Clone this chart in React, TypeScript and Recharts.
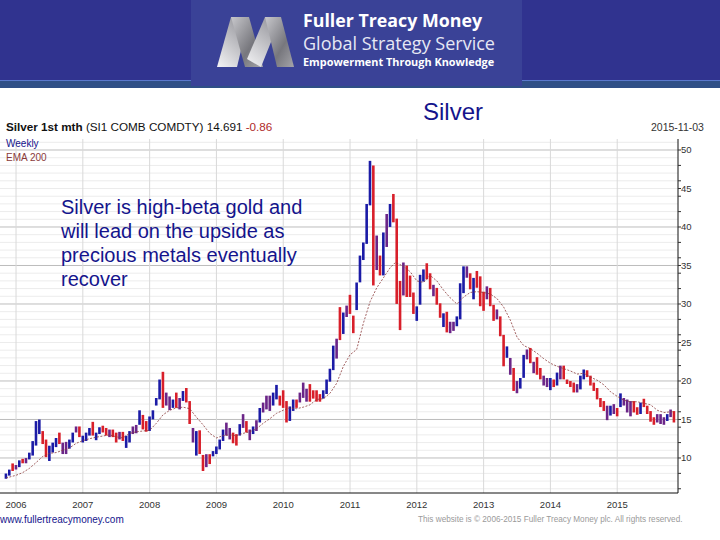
import {
  Bar,
  CartesianGrid,
  Cell,
  ComposedChart,
  Line,
  XAxis,
  YAxis,
} from "recharts";

// one bar every 0.05 year
const barYears = [
  2005.85, 2005.9, 2005.95, 2006, 2006.05, 2006.1, 2006.15, 2006.2, 2006.25, 2006.3,
  2006.35, 2006.4, 2006.45, 2006.5, 2006.55, 2006.6, 2006.65, 2006.7, 2006.75, 2006.8,
  2006.85, 2006.9, 2006.95, 2007, 2007.05, 2007.1, 2007.15, 2007.2, 2007.25, 2007.3,
  2007.35, 2007.4, 2007.45, 2007.5, 2007.55, 2007.6, 2007.65, 2007.7, 2007.75, 2007.8,
  2007.85, 2007.9, 2007.95, 2008, 2008.05, 2008.1, 2008.15, 2008.2, 2008.25, 2008.3,
  2008.35, 2008.4, 2008.45, 2008.5, 2008.55, 2008.6, 2008.65, 2008.7, 2008.75, 2008.8,
  2008.85, 2008.9, 2008.95, 2009, 2009.05, 2009.1, 2009.15, 2009.2, 2009.25, 2009.3,
  2009.35, 2009.4, 2009.45, 2009.5, 2009.55, 2009.6, 2009.65, 2009.7, 2009.75, 2009.8,
  2009.85, 2009.9, 2009.95, 2010, 2010.05, 2010.1, 2010.15, 2010.2, 2010.25, 2010.3,
  2010.35, 2010.4, 2010.45, 2010.5, 2010.55, 2010.6, 2010.65, 2010.7, 2010.75, 2010.8,
  2010.85, 2010.9, 2010.95, 2011, 2011.05, 2011.1, 2011.15, 2011.2, 2011.25, 2011.3,
  2011.35, 2011.4, 2011.45, 2011.5, 2011.55, 2011.6, 2011.65, 2011.7, 2011.75, 2011.8,
  2011.85, 2011.9, 2011.95, 2012, 2012.05, 2012.1, 2012.15, 2012.2, 2012.25, 2012.3,
  2012.35, 2012.4, 2012.45, 2012.5, 2012.55, 2012.6, 2012.65, 2012.7, 2012.75, 2012.8,
  2012.85, 2012.9, 2012.95, 2013, 2013.05, 2013.1, 2013.15, 2013.2, 2013.25, 2013.3,
  2013.35, 2013.4, 2013.45, 2013.5, 2013.55, 2013.6, 2013.65, 2013.7, 2013.75, 2013.8,
  2013.85, 2013.9, 2013.95, 2014, 2014.05, 2014.1, 2014.15, 2014.2, 2014.25, 2014.3,
  2014.35, 2014.4, 2014.45, 2014.5, 2014.55, 2014.6, 2014.65, 2014.7, 2014.75, 2014.8,
  2014.85, 2014.9, 2014.95, 2015, 2015.05, 2015.1, 2015.15, 2015.2, 2015.25, 2015.3,
  2015.35, 2015.4, 2015.45, 2015.5, 2015.55, 2015.6, 2015.65, 2015.7, 2015.75, 2015.8,
  2015.85,
];

const barLows = [
  7.4, 7.8, 8.4, 8.6, 8.9, 9.4, 9.4, 9.9, 10.4, 11.7,
  13.2, 11.9, 10.2, 9.7, 10.8, 11.5, 11.9, 10.6, 10.6, 11.3,
  12.1, 13.4, 12.8, 12.1, 12.3, 13, 13, 12.4, 13.2, 13.4,
  13, 12.8, 12.8, 12.1, 12.5, 12.3, 11.4, 12.1, 13.2, 13.3,
  14.4, 13.8, 13.5, 13.6, 15.1, 16.9, 17.7, 16.6, 16.9, 16.3,
  16.6, 16.6, 16.4, 17.5, 17.3, 14.5, 12.1, 10.4, 10.6, 8.4,
  8.9, 9.3, 10.3, 10.6, 11.2, 12.3, 13, 12.5, 12, 11.7,
  13, 14, 13.4, 12.4, 13.2, 13.6, 14.7, 16, 16.4, 16.2,
  16.9, 17.7, 16.9, 16.6, 14.7, 14.9, 16.2, 16.6, 17.3, 17.9,
  17.4, 17.4, 17.8, 17.4, 17.4, 17.8, 18.4, 20, 21.5, 23,
  25.4, 26.2, 28.4, 28.8, 26.3, 29.3, 32.9, 35.8, 37.9, 42.9,
  32.5, 34.5, 33.8, 33.8, 37.5, 40.1, 40.7, 30.1, 26.7, 31.2,
  31, 31, 28.8, 27.9, 30, 33, 33.3, 32, 31.1, 30,
  28.3, 27.1, 26.4, 26.3, 26.6, 27.2, 28.1, 31.5, 33.5, 32,
  30.7, 32.2, 29.8, 29.2, 30.7, 29.8, 27.9, 28.1, 25.9, 22,
  23.1, 20.9, 18.8, 18.5, 19.1, 20.5, 22.9, 22.4, 21.1, 20.9,
  20.3, 19.5, 19.3, 18.9, 19.3, 19.5, 20.3, 20.3, 19.7, 19.3,
  18.6, 18.6, 19, 20.3, 20.6, 19.5, 18.8, 17.7, 16.7, 16.2,
  15, 15.6, 15.8, 15.5, 16.7, 16.9, 16, 15.5, 16, 15.7,
  15.8, 16.7, 15.8, 14.8, 14.4, 14.7, 14.5, 14.4, 14.9, 15.4,
  14.7,
];

const barHighs = [
  7.9, 8.4, 9.2, 9, 9.6, 9.8, 9.9, 10.6, 12.1, 14.7,
  14.9, 13.4, 12.3, 11.5, 11.9, 12.5, 13.2, 11.9, 12, 12.3,
  13.2, 14, 14, 12.8, 13.2, 13.8, 14.6, 13.2, 13.9, 14.1,
  13.8, 13.6, 13.6, 13.2, 13.3, 13.3, 12.8, 13.4, 14, 14.2,
  16.1, 15.5, 14.7, 15.3, 16.1, 17.7, 20.1, 21.1, 18.4, 17.9,
  17.5, 18.4, 17.7, 18.6, 19, 17.3, 13.8, 13.4, 13.5, 10.3,
  10.4, 10.4, 10.8, 11.4, 12.3, 13.6, 14.5, 13.8, 13.2, 13,
  14.3, 15.6, 14.7, 13.6, 14, 14.8, 16.4, 17.1, 18, 18,
  18.4, 19.4, 18, 18.7, 17.3, 16.6, 17.5, 17.5, 18.4, 19.7,
  18.9, 19.5, 18.7, 18.7, 18.2, 18.7, 20.1, 21.5, 24.5, 25.4,
  29.5, 28.8, 29.7, 31.1, 28.4, 32.7, 36.2, 37.9, 42.9, 48.5,
  47.9, 38.8, 36.2, 39.2, 41.6, 42.9, 44.2, 41, 32.9, 35.3,
  34.9, 33.6, 31.4, 29.6, 33.7, 34.4, 35.2, 33.9, 32.4, 32,
  30, 28.7, 28.9, 27.6, 27.6, 28.3, 32.6, 34.8, 34.8, 33.9,
  33.3, 34.2, 33.5, 31.5, 32.2, 32, 29.8, 29.2, 28.3, 25.9,
  24.4, 22.9, 21.6, 19.9, 20.3, 23.3, 24, 24.2, 22.4, 23,
  21.6, 20.6, 20.3, 20.3, 20.1, 21, 21.9, 21.9, 20.1, 19.9,
  19.7, 19.5, 20.6, 21.4, 21.3, 20.6, 19.7, 19, 17.7, 17.3,
  16.7, 16.7, 16.9, 16.4, 18.3, 17.7, 17.5, 17.3, 17.3, 16.5,
  17.1, 17.6, 16.7, 16, 15.2, 15.6, 15.6, 15.2, 15.6, 16.2,
  16,
];

// u = up week, d = down week, m = both colours overlapping
const barKinds = [
  "u", "u", "d", "m", "u", "d", "m", "u", "u", "u",
  "u", "d", "d", "u", "u", "u", "d", "m", "m", "u",
  "u", "m", "d", "u", "u", "u", "d", "u", "u", "d",
  "d", "m", "d", "d", "m", "d", "u", "u", "m", "m",
  "u", "d", "d", "u", "u", "u", "u", "d", "m", "m",
  "u", "d", "m", "u", "d", "d", "m", "u", "d", "d",
  "m", "d", "u", "u", "u", "u", "m", "m", "d", "d",
  "u", "m", "d", "m", "u", "m", "u", "m", "m", "m",
  "u", "u", "d", "d", "d", "u", "u", "d", "m", "m",
  "m", "d", "d", "d", "d", "u", "u", "u", "u", "m",
  "d", "u", "m", "d", "d", "u", "u", "u", "u", "u",
  "d", "m", "d", "u", "m", "u", "d", "d", "d", "m",
  "d", "d", "d", "u", "u", "u", "d", "d", "m", "d",
  "d", "u", "d", "m", "m", "u", "u", "u", "m", "d",
  "u", "d", "d", "d", "m", "d", "d", "m", "d", "d",
  "u", "m", "d", "m", "u", "u", "m", "d", "m", "d",
  "d", "m", "m", "u", "d", "u", "m", "d", "d", "d",
  "d", "m", "u", "u", "d", "d", "d", "d", "d", "d",
  "m", "u", "m", "d", "u", "m", "m", "m", "d", "d",
  "u", "d", "d", "d", "d", "m", "m", "m", "u", "m",
  "d",
];

const emaYears = [
  2005.85, 2006, 2006.1, 2006.2, 2006.3, 2006.4, 2006.5, 2006.6, 2006.7, 2006.8, 2006.9,
  2007, 2007.1, 2007.2, 2007.3, 2007.4, 2007.5, 2007.6, 2007.7, 2007.8, 2007.9,
  2008, 2008.1, 2008.2, 2008.3, 2008.4, 2008.5, 2008.6, 2008.7, 2008.8, 2008.9,
  2009, 2009.1, 2009.2, 2009.3, 2009.4, 2009.5, 2009.6, 2009.7, 2009.8, 2009.9,
  2010, 2010.1, 2010.2, 2010.3, 2010.4, 2010.5, 2010.6, 2010.7, 2010.8, 2010.9,
  2011, 2011.1, 2011.2, 2011.3, 2011.4, 2011.5, 2011.6, 2011.68, 2011.8, 2011.9,
  2012, 2012.1, 2012.2, 2012.3, 2012.4, 2012.5, 2012.6, 2012.7, 2012.8, 2012.9,
  2013, 2013.1, 2013.2, 2013.3, 2013.4, 2013.5, 2013.6, 2013.7, 2013.8, 2013.9,
  2014, 2014.1, 2014.2, 2014.3, 2014.4, 2014.5, 2014.6, 2014.7, 2014.8, 2014.9,
  2015, 2015.1, 2015.2, 2015.3, 2015.4, 2015.5, 2015.6, 2015.7, 2015.8, 2015.85,
];

const emaValues = [
  7.4, 7.75, 8.1, 8.65, 9.4, 10.2, 10.6, 10.7, 11, 11.3, 11.9,
  12.25, 12.5, 12.7, 12.85, 13, 12.75, 12.6, 13.2, 13.4, 13.5,
  13.6, 14.5, 15.6, 16.2, 16.5, 16.6, 16.4, 15.3, 14.3, 13.2,
  12.6, 12.9, 13, 12.9, 13.2, 13.4, 13.8, 14.5, 15.1, 15.8,
  16.2, 16.5, 16.4, 16.6, 16.9, 17.6, 17.7, 18.4, 19.7, 21.9,
  23.4, 24.1, 27.5, 30.3, 32.1, 33.4, 34.7, 35.4, 34.9, 34.2,
  33, 32.8, 33.7, 33, 31.8, 30.8, 30, 30.9, 31.5, 31.6,
  31.5, 31.3, 30.7, 29.6, 27.9, 25.7, 24.6, 24.2, 23.6, 22.9,
  22.3, 21.9, 21.6, 21.3, 20.9, 21, 20.5, 20.1, 19.5, 18.6,
  18, 17.5, 17.3, 17.3, 17.1, 16.9, 16.2, 15.9, 16, 16,
];

const yearTicks = [2006, 2007, 2008, 2009, 2010, 2011, 2012, 2013, 2014, 2015];
const priceTicks = [6, 8, 10, 12, 14, 15, 16, 18, 20, 22, 24, 25, 26, 28, 30, 32, 34, 35, 36, 38, 40, 42, 44, 45, 46, 48, 50];
const majorLevels = [10, 15, 20, 30, 35, 40, 50];
const minorLevels = [
  6, 7, 8, 9, 11, 12, 13, 14, 16, 17, 18, 19, 21, 22, 23, 24, 25, 26, 27, 28, 29,
  31, 32, 33, 34, 36, 37, 38, 39, 41, 42, 43, 44, 45, 46, 47, 48, 49, 51,
];

const KIND_COLORS: Record<string, string> = { u: "#1b1ba6", d: "#d81f2a", m: "#6b2588" };
const NAVY = "#14148c";

const barRows = barYears.map((year, i) => ({ year, range: [barLows[i], barHighs[i]] }));
const emaRows = emaYears.map((year, i) => ({ year, ema: emaValues[i] }));

function Label({ x, y, size, color, bold, font, children }: any) {
  return (
    <div
      style={{
        position: "absolute",
        left: x,
        top: y,
        fontSize: size,
        color,
        fontWeight: bold ? 700 : 400,
        fontFamily: font || "'Liberation Sans', Arial, sans-serif",
        lineHeight: 1,
        whiteSpace: "nowrap",
      }}
    >
      {children}
    </div>
  );
}

function Banner() {
  return (
    <div style={{ position: "absolute", left: 0, top: 0, width: 720, height: 88, background: "#30338f" }}>
      <div style={{ position: "absolute", left: 0, top: 80, width: 720, height: 1, background: "#5a78cc" }} />
      <div style={{ position: "absolute", left: 0, top: 81, width: 720, height: 7, background: "#2f4f86" }} />
      <div style={{ position: "absolute", left: 191, top: 0, width: 331, height: 86, background: "#3a4297" }} />
      <svg style={{ position: "absolute", left: 215, top: 15 }} width={82} height={54}>
        <defs>
          <linearGradient id="bandA" x1="0" y1="1" x2="0.6" y2="0">
            <stop offset="0" stopColor="#f4f4f6" />
            <stop offset="1" stopColor="#9a9aa0" />
          </linearGradient>
          <linearGradient id="bandB" x1="0" y1="0" x2="1" y2="1">
            <stop offset="0" stopColor="#c8c8cc" />
            <stop offset="0.6" stopColor="#77777d" />
            <stop offset="1" stopColor="#a5a5aa" />
          </linearGradient>
        </defs>
        <polygon points="2,52 16,2 34,2 22,52" fill="url(#bandA)" />
        <polygon points="16,2 34,2 48,52 30,52" fill="url(#bandB)" />
        <polygon points="32,44 50,2 66,2 46,52" fill="url(#bandA)" />
        <polygon points="50,2 66,2 79,52 62,52" fill="url(#bandB)" />
      </svg>
      <Label x={303} y={12} size={17.8} color="#ffffff" bold font="'Open Sans', sans-serif">Fuller Treacy Money</Label>
      <Label x={303} y={34} size={18} color="#e6e8f4" font="'Open Sans', sans-serif">Global Strategy Service</Label>
      <Label x={303} y={57} size={10.9} color="#ffffff" bold font="'Open Sans', sans-serif">Empowerment Through Knowledge</Label>
    </div>
  );
}

export default function App() {
  return (
    <div style={{ position: "absolute", left: 0, top: 0, width: 720, height: 540, background: "#ffffff", overflow: "hidden" }}>
      <ComposedChart
        width={720}
        height={540}
        data={barRows}
        barCategoryGap={0}
        barGap={0}
        margin={{ top: 139, right: 0, bottom: 0, left: 0 }}
      >
        <CartesianGrid stroke="#ececec" vertical={false} horizontalValues={minorLevels} />
        <CartesianGrid stroke="#bdbdbd" vertical={false} horizontalValues={majorLevels} />
        <CartesianGrid stroke="#d9d9d9" horizontal={false} verticalValues={yearTicks} />
        <XAxis
          dataKey="year"
          type="number"
          domain={[2005.76, 2015.91]}
          allowDataOverflow
          ticks={yearTicks}
          tickFormatter={(v) => String(v)}
          height={47}
          tickLine={false}
          axisLine={{ stroke: "#111111" }}
          tick={{ fontSize: 9.5, fill: "#333333", fontFamily: "'Liberation Sans', Arial, sans-serif" }}
        />
        <YAxis
          orientation="right"
          type="number"
          domain={[5.45, 51.43]}
          allowDataOverflow
          ticks={priceTicks}
          interval={0}
          width={42}
          tickSize={3}
          tickMargin={0}
          tickFormatter={(v) => (v % 5 === 0 ? String(v) : "")}
          axisLine={{ stroke: "#111111" }}
          tickLine={{ stroke: "#333333" }}
          tick={{ fontSize: 9.5, fill: "#333333", fontFamily: "'Liberation Sans', Arial, sans-serif" }}
        />
        <Bar dataKey="range" barSize={3} isAnimationActive={false}>
          {barRows.map((row, i) => (
            <Cell key={row.year} fill={KIND_COLORS[barKinds[i]]} stroke={KIND_COLORS[barKinds[i]]} strokeWidth={1.4} />
          ))}
        </Bar>
        <Line
          data={emaRows}
          dataKey="ema"
          type="linear"
          stroke="#8a3a3a"
          strokeWidth={0.8}
          strokeDasharray="2 1.5"
          dot={false}
          isAnimationActive={false}
        />
      </ComposedChart>

      <Banner />
      <Label x={423} y={100} size={24} color={NAVY}>Silver</Label>
      <Label x={6} y={121} size={11.7} color="#111111">
        <b>Silver 1st mth</b> (SI1 COMB COMDTY) 14.691 <span style={{ color: "#b02a2a" }}>-0.86</span>
      </Label>
      <Label x={651} y={122} size={10.5} color="#333333">2015-11-03</Label>
      <Label x={6} y={139} size={10} color={NAVY}>Weekly</Label>
      <Label x={6} y={153} size={10} color="#8a3a3a">EMA 200</Label>
      {["Silver is high-beta gold and", "will lead on the upside as", "precious metals eventually", "recover"].map((line, i) => (
        <Label key={line} x={61} y={197 + i * 24} size={20} color={NAVY}>{line}</Label>
      ))}
      <Label x={0} y={515} size={10} color={NAVY}>www.fullertreacymoney.com</Label>
      <Label x={418} y={516} size={8.2} color="#9a9a9a">This website is © 2006-2015 Fuller Treacy Money plc. All rights reserved.</Label>
    </div>
  );
}
